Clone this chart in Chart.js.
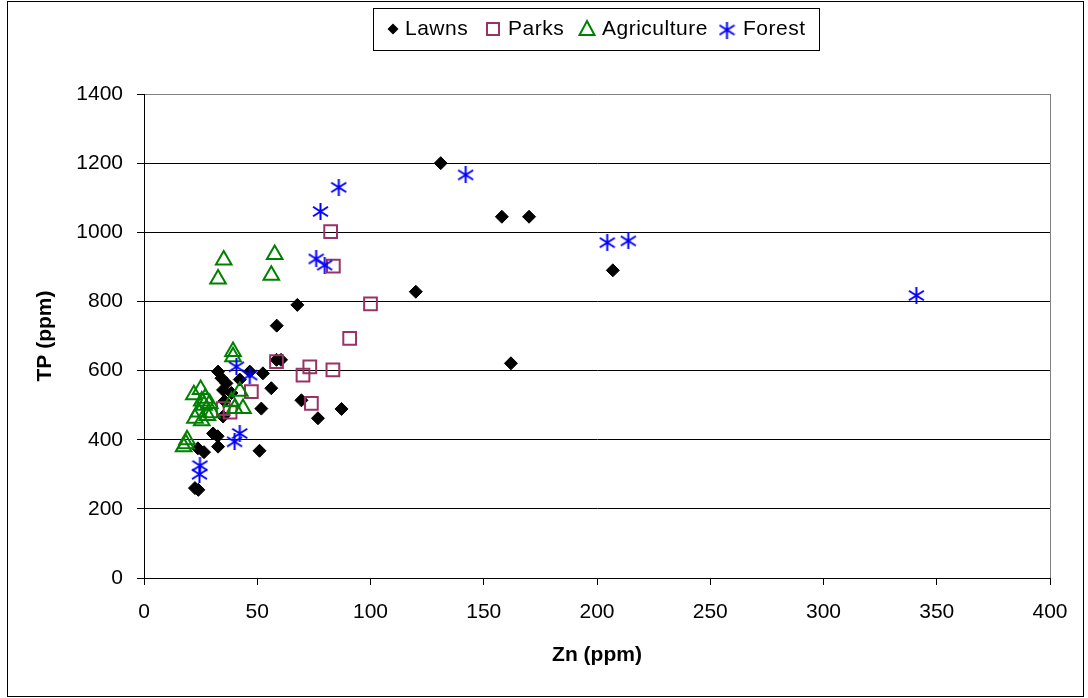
<!DOCTYPE html>
<html>
<head>
<meta charset="utf-8">
<script src="https://cdn.jsdelivr.net/npm/chart.js"></script>
<style>
  html, body { margin: 0; padding: 0; background: #fff; }
  #wrap { width: 1088px; height: 698px; }
</style>
</head>
<body>
<div id="wrap"><canvas id="zincChart" width="1088" height="698"></canvas></div>
<script>
// Data (Zn ppm, TP ppm)
const lawnsZn = [22.5, 24, 23.8, 26.5, 30.5, 32.5, 32.7, 34.9, 35.5, 32.7, 34.2, 36.4, 34.9, 38.6, 42.3, 46.7, 52.5, 56.2, 51.8, 51, 58.5, 60.5, 58.6, 67.7, 69.5, 76.8, 87.2, 120, 131, 158, 170, 207, 162];
const lawnsTP = [260, 255, 375, 364, 418, 410, 380, 467, 512, 597, 578, 563, 544, 535, 574, 597, 592, 549, 490, 368, 631, 631, 730, 790, 514, 462, 489, 828, 1200, 1045, 1045, 890, 621];

const parksZn = [82.4, 83.6, 100, 90.8, 58.5, 73.2, 70.2, 83.4, 73.9, 47.4, 35, 38];
const parksTP = [1002, 902, 793, 693, 626, 611, 587, 602, 505, 539, 490, 480];

const agriZn = [17.5, 18.5, 19, 22, 22.5, 24, 25, 25.5, 25.5, 26.5, 27, 28, 29, 30, 32.7, 35.2, 39.3, 39.3, 38.6, 40, 42.3, 43.7, 56.2, 57.7];
const agriTP = [380, 388, 400, 530, 462, 480, 545, 512, 455, 500, 520, 470, 505, 478, 865, 920, 655, 640, 510, 490, 540, 490, 876, 936];

const forestZn = [24.5, 24.7, 40, 42.3, 40.8, 46.7, 76, 79.8, 77.9, 86, 142, 204.5, 213.8, 341];
const forestTP = [300, 325, 394, 418, 611, 587, 923, 905, 1060, 1130, 1166, 970, 975, 817];

const seriesNames = ['Lawns', 'Parks', 'Agriculture', 'Forest'];
const xTicks = { min: 0, max: 400, step: 50 };
const yTicks = { min: 0, max: 1400, step: 200 };

const FONT = '"Liberation Sans", Arial, sans-serif';

function pairs(xs, ys) {
    return xs.map((x, i) => ({ x: x, y: ys[i] }));
}

// Excel-style asterisk marker (vertical bar + X)
function makeStar(size, color) {
    const c = document.createElement('canvas');
    c.width = size;
    c.height = size;
    const g = c.getContext('2d');
    g.strokeStyle = color;
    g.lineWidth = 2;
    const m = size / 2;
    g.beginPath();
    g.moveTo(m, 0); g.lineTo(m, size);
    g.moveTo(1, size * 0.22); g.lineTo(size - 1, size * 0.78);
    g.moveTo(1, size * 0.78); g.lineTo(size - 1, size * 0.22);
    g.stroke();
    return c;
}

const starImg = makeStar(17, '#0000ff');

// frame, plot border and the boxed legend
const framePlugin = {
    id: 'frame',
    beforeDraw(chart) {
        const ctx = chart.ctx;
        ctx.save();
        ctx.fillStyle = '#fff';
        ctx.fillRect(0, 0, chart.width, chart.height);
        ctx.restore();
    },
    afterDraw(chart) {
        const ctx = chart.ctx;
        const a = chart.chartArea;
        ctx.save();
        // plot area right edge
        ctx.strokeStyle = '#808080';
        ctx.lineWidth = 1;
        ctx.beginPath();
        ctx.moveTo(Math.round(a.right) + 0.5, a.top);
        ctx.lineTo(Math.round(a.right) + 0.5, a.bottom);
        ctx.stroke();

        // outer frame
        ctx.strokeStyle = '#000';
        ctx.strokeRect(7.5, 1.5, 1076, 695);

        // legend box
        ctx.strokeRect(373.5, 8.5, 446, 42);
        const cy = 29;
        ctx.fillStyle = '#000';
        ctx.beginPath();
        ctx.moveTo(393, cy - 5.5); ctx.lineTo(398.5, cy); ctx.lineTo(393, cy + 5.5); ctx.lineTo(387.5, cy);
        ctx.closePath();
        ctx.fill();

        ctx.strokeStyle = '#993366';
        ctx.lineWidth = 2;
        ctx.strokeRect(487, cy - 6, 12, 12);

        ctx.strokeStyle = '#008000';
        ctx.beginPath();
        ctx.moveTo(587, cy - 8); ctx.lineTo(594.5, cy + 6); ctx.lineTo(579.5, cy + 6);
        ctx.closePath();
        ctx.stroke();

        ctx.drawImage(starImg, 727 - 8.5, cy + 1 - 8.5);

        ctx.fillStyle = '#000';
        ctx.font = '21px ' + FONT;
        ctx.letterSpacing = '0.5px';
        ctx.textBaseline = 'middle';
        ctx.textAlign = 'left';
        const textX = [405, 508, 602, 743];
        seriesNames.forEach((n, i) => ctx.fillText(n, textX[i], cy));
        ctx.restore();
    }
};

const ctx = document.getElementById('zincChart').getContext('2d');
const zincChart = new Chart(ctx, {
    type: 'scatter',
    data: {
        datasets: [
            {
                label: seriesNames[0],
                data: pairs(lawnsZn, lawnsTP),
                pointStyle: 'rectRot',
                pointRadius: 6.5,
                backgroundColor: '#000',
                borderColor: '#000',
                borderWidth: 1,
                order: 4
            },
            {
                label: seriesNames[1],
                data: pairs(parksZn, parksTP),
                pointStyle: 'rect',
                pointRadius: 9,
                backgroundColor: 'rgba(0,0,0,0)',
                borderColor: '#993366',
                borderWidth: 2,
                order: 3
            },
            {
                label: seriesNames[2],
                data: pairs(agriZn, agriTP),
                pointStyle: 'triangle',
                pointRadius: 9,
                backgroundColor: 'rgba(0,0,0,0)',
                borderColor: '#008000',
                borderWidth: 2,
                order: 2
            },
            {
                label: seriesNames[3],
                data: pairs(forestZn, forestTP),
                pointStyle: starImg,
                pointRadius: 8,
                backgroundColor: '#0000ff',
                borderColor: '#0000ff',
                order: 1
            }
        ]
    },
    options: {
        responsive: false,
        animation: false,
        devicePixelRatio: 1,
        layout: { padding: { left: 20, right: 38, top: 94, bottom: 0 } },
        plugins: {
            legend: { display: false },
            tooltip: { enabled: false }
        },
        scales: {
            x: {
                type: 'linear',
                min: xTicks.min,
                max: xTicks.max,
                afterFit: s => { s.height = 120; },
                ticks: { stepSize: xTicks.step, color: '#000', padding: 15, callback: v => String(v), font: { family: FONT, size: 21 } },
                grid: { drawOnChartArea: false, drawTicks: true, tickLength: 7, color: '#000', tickColor: '#000' },
                border: { color: '#000', width: 1 },
                title: {
                    display: true,
                    text: 'Zn (ppm)',
                    color: '#000',
                    font: { family: FONT, size: 21, weight: 'bold' },
                    padding: { top: 0, bottom: 30 }
                }
            },
            y: {
                type: 'linear',
                min: yTicks.min,
                max: yTicks.max,
                afterFit: s => { s.width = 124; },
                ticks: { stepSize: yTicks.step, color: '#000', padding: 14, callback: v => String(v), font: { family: FONT, size: 21 } },
                grid: {
                    tickLength: 7,
                    color: c => (c.tick && c.tick.value === yTicks.max ? '#808080' : '#000'),
                    tickColor: '#000'
                },
                border: { color: '#000', width: 1 },
                title: {
                    display: true,
                    text: 'TP (ppm)',
                    color: '#000',
                    font: { family: FONT, size: 21, weight: 'bold' },
                    padding: { top: 13, bottom: 0 }
                }
            }
        }
    },
    plugins: [framePlugin]
});
</script>
</body>
</html>
